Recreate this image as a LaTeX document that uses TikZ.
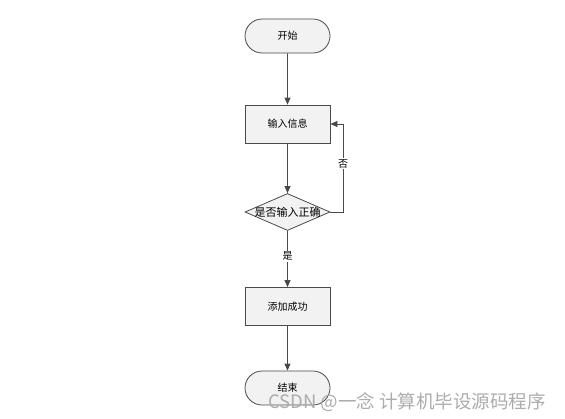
\documentclass[tikz,border=0pt]{standalone}
\usepackage{fontspec}
\newfontfamily\cjk{Noto Sans CJK SC}
\usetikzlibrary{shapes.geometric,shapes.misc,arrows.meta}
\definecolor{linec}{HTML}{4A4A4A}
\definecolor{fillc}{HTML}{F2F2F2}
\tikzset{
  base/.style={draw=linec, line width=0.8pt, fill=fillc, font=\cjk\fontsize{10}{11}\selectfont, inner sep=0pt},
  term/.style={base, rounded rectangle, minimum width=85pt, minimum height=34pt},
  procbox/.style={base, rectangle, minimum width=85pt, minimum height=38pt},
  decis/.style={base, diamond, minimum width=85pt, minimum height=37pt, aspect=2.3, font=\cjk\fontsize{11}{12}\selectfont},
  conn/.style={draw=linec, line width=0.8pt, -{Triangle[length=7pt,width=6pt]}},
  lbl/.style={font=\cjk\fontsize{10}{11}\selectfont, fill=white, inner sep=1pt}
}
\begin{document}
\begin{tikzpicture}[x=1pt,y=-1pt]
\useasboundingbox (0,0) rectangle (565,418);
\node[term] (start) at (287.5,36) {开始};
\node[procbox] (input) at (287.5,124) {输入信息};
\node[decis] (check) at (287.5,212) {};
\node[font=\cjk\fontsize{11}{12}\selectfont, inner sep=0pt] (checktext) at (check.center) {是否输入正确};
\node[procbox] (add) at (287.5,306.5) {添加成功};
\node[term] (end) at (287.5,388) {结束};
\coordinate (corner) at (343,212);
\draw[conn] (start) -- (input);
\draw[conn] (input) -- (check);
\draw[conn] (check) -- node[lbl, pos=0.45] {是} (add);
\draw[conn] (add) -- (end);
\draw[conn] (check.east) -- (corner) -- node[lbl, pos=0.55] {否} (corner |- input.east) -- (input.east);
\node[font=\cjk\fontsize{18.5}{20}\selectfont, text=gray!65, anchor=base west, inner sep=0pt] (wm) at (268,408) {CSDN @一念 计算机毕设源码程序};
\end{tikzpicture}
\end{document}
